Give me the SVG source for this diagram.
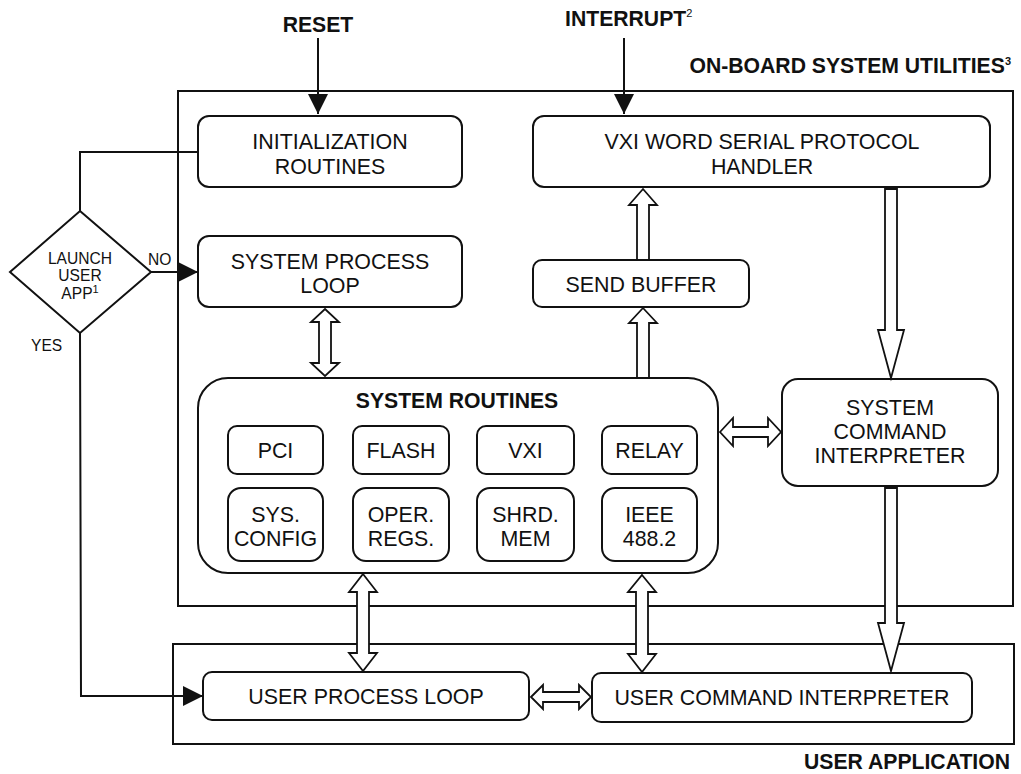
<svg xmlns="http://www.w3.org/2000/svg" width="1021" height="774" viewBox="0 0 1021 774">
<defs>
<style>
.box{fill:#fff;stroke:#111;stroke-width:2}
.frame{fill:none;stroke:#111;stroke-width:2}
.line{fill:none;stroke:#111;stroke-width:2}
.hollow{fill:#fff;stroke:#111;stroke-width:1.8;stroke-linejoin:miter}
.t{font-family:"Liberation Sans",Arial,sans-serif;font-size:21.4px;fill:#111;text-anchor:middle}
.b{font-family:"Liberation Sans",Arial,sans-serif;font-size:21.2px;font-weight:bold;fill:#111}
.s{font-family:"Liberation Sans",Arial,sans-serif;font-size:15.6px;fill:#111}
.sup{font-size:11px}
</style>
<marker id="ah" markerUnits="userSpaceOnUse" markerWidth="20" markerHeight="20" refX="20" refY="10" orient="auto">
<path d="M0,0 L20,10 L0,20 z" fill="#111"/>
</marker>
</defs>
<rect width="1021" height="774" fill="#fff"/>

<g id="onboard">
<rect class="frame" x="178" y="91" width="835" height="515"/>
<text class="b" x="1011" y="73" text-anchor="end">ON-BOARD SYSTEM UTILITIES<tspan class="sup" dy="-8">3</tspan></text>
</g>
<g id="userapp">
<rect class="frame" x="173" y="644" width="841" height="100"/>
<text class="b" x="1010" y="769" text-anchor="end" font-size="21.6">USER APPLICATION</text>
</g>

<g id="reset"><text class="b" x="318" y="32" text-anchor="middle" font-size="20.8">RESET</text></g>
<g id="interrupt"><text class="b" x="565" y="26" font-size="20.8">INTERRUPT<tspan class="sup" dy="-9" font-weight="normal">2</tspan></text></g>

<g id="init">
<rect class="box" x="198" y="116" width="264" height="71" rx="11"/>
<text class="t" x="330" y="149">INITIALIZATION</text>
<text class="t" x="330" y="174">ROUTINES</text>
</g>
<g id="sysloop">
<rect class="box" x="198" y="236" width="264" height="71" rx="11"/>
<text class="t" x="330" y="269">SYSTEM PROCESS</text>
<text class="t" x="330" y="293">LOOP</text>
</g>
<g id="vxiword">
<rect class="box" x="533" y="116" width="457" height="71" rx="11"/>
<text class="t" x="762" y="149">VXI WORD SERIAL PROTOCOL</text>
<text class="t" x="762" y="174">HANDLER</text>
</g>
<g id="sendbuf">
<rect class="box" x="533" y="260" width="216" height="47" rx="9"/>
<text class="t" x="641" y="292">SEND BUFFER</text>
</g>
<g id="sysroutines">
<rect class="box" x="198" y="378" width="520" height="195" rx="30"/>
<text class="b" x="457" y="408" text-anchor="middle" font-size="21.6">SYSTEM ROUTINES</text>
</g>
<g id="pci"><rect class="box" x="228" y="426" width="95" height="48" rx="9"/><text class="t" x="275.5" y="458">PCI</text></g>
<g id="flash"><rect class="box" x="353" y="426" width="96" height="48" rx="9"/><text class="t" x="401" y="458">FLASH</text></g>
<g id="vxi"><rect class="box" x="477" y="426" width="97" height="48" rx="9"/><text class="t" x="525.5" y="458">VXI</text></g>
<g id="relay"><rect class="box" x="602" y="426" width="95" height="48" rx="9"/><text class="t" x="649.5" y="458">RELAY</text></g>
<g id="sysconfig"><rect class="box" x="228" y="488" width="95" height="73" rx="13"/><text class="t" x="275.5" y="522">SYS.</text><text class="t" x="275.5" y="546">CONFIG</text></g>
<g id="operregs"><rect class="box" x="353" y="488" width="96" height="73" rx="13"/><text class="t" x="401" y="522">OPER.</text><text class="t" x="401" y="546">REGS.</text></g>
<g id="shrdmem"><rect class="box" x="477" y="488" width="97" height="73" rx="13"/><text class="t" x="525.5" y="522">SHRD.</text><text class="t" x="525.5" y="546">MEM</text></g>
<g id="ieee"><rect class="box" x="602" y="488" width="95" height="73" rx="13"/><text class="t" x="649.5" y="522">IEEE</text><text class="t" x="649.5" y="546">488.2</text></g>
<g id="syscmd">
<rect class="box" x="782" y="379" width="216" height="107" rx="16"/>
<text class="t" x="890" y="415">SYSTEM</text>
<text class="t" x="890" y="439">COMMAND</text>
<text class="t" x="890" y="463">INTERPRETER</text>
</g>
<g id="userloop">
<rect class="box" x="203" y="672" width="326" height="48" rx="9"/>
<text class="t" x="366" y="704">USER PROCESS LOOP</text>
</g>
<g id="usercmd">
<rect class="box" x="592" y="673" width="380" height="49" rx="9"/>
<text class="t" x="782" y="705">USER COMMAND INTERPRETER</text>
</g>
<g id="launch">
<polygon class="box" points="80,211 151,272 80,333 10,272"/>
<text class="s" x="80" y="264" text-anchor="middle">LAUNCH</text>
<text class="s" x="80" y="281" text-anchor="middle">USER</text>
<text class="s" x="80" y="299" text-anchor="middle">APP<tspan class="sup" font-size="9" dy="-6">1</tspan></text>
</g>

<g id="connectors">
<line class="line" x1="318" y1="38" x2="318" y2="114" marker-end="url(#ah)"/>
<line class="line" x1="624" y1="38" x2="624" y2="114" marker-end="url(#ah)"/>
<polyline class="line" points="198,152 80,152 80,211"/>
<line class="line" x1="151" y1="272" x2="198" y2="272" marker-end="url(#ah)"/>
<polyline class="line" points="80,333 81,696 203,696" marker-end="url(#ah)"/>
<text class="s" x="148" y="265">NO</text>
<text class="s" x="31" y="351">YES</text>
<polygon class="hollow" points="643,189 657,205 649,205 649,260 637,260 637,205 629,205"/>
<polygon class="hollow" points="643,308 657,323 649,323 649,378 637,378 637,323 629,323"/>
<polygon class="hollow" points="325,309 339,322 331,322 331,363 339,363 325,376 311,363 319,363 319,322 311,322"/>
<polygon class="hollow" points="885,189 897,189 897,330 904,330 891,378 878,330 885,330"/>
<polygon class="hollow" points="885,488 897,488 897,623 904,623 891,671 878,623 885,623"/>
<polygon class="hollow" points="363,574 377,592 369,592 369,653 377,653 363,671 349,653 357,653 357,592 349,592"/>
<polygon class="hollow" points="642,575 656,592 648,592 648,654 656,654 642,672 628,654 636,654 636,592 628,592"/>
<polygon class="hollow" points="720,432 733,418 733,427 768,427 768,418 781,432 768,446 768,437 733,437 733,446"/>
<polygon class="hollow" points="531,697 543,685 543,692 579,692 579,685 591,697 579,709 579,702 543,702 543,709"/>
</g>
</svg>
